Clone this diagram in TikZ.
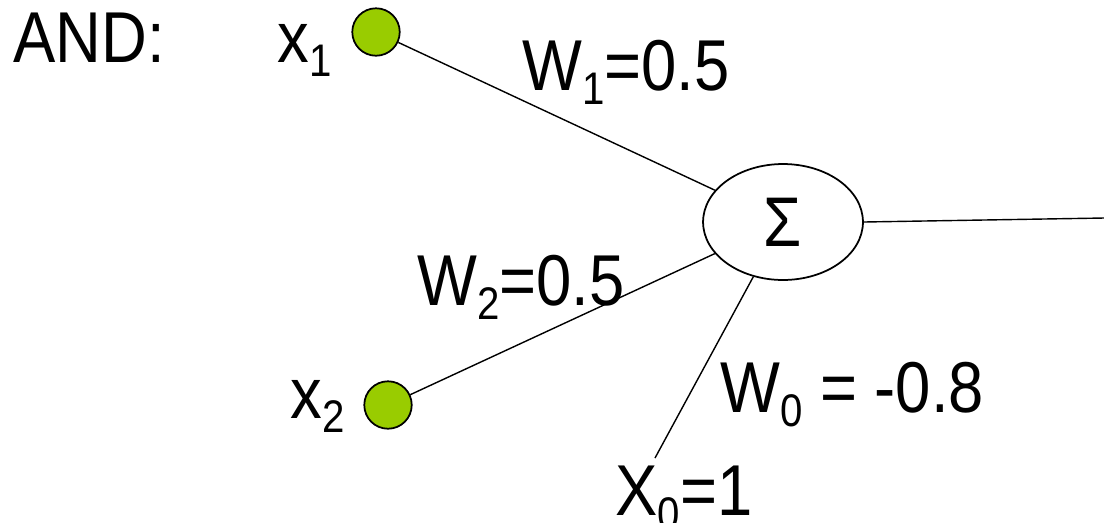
\documentclass[tikz,border=0pt]{standalone}
\usepackage{fontspec}
\setmainfont{Liberation Sans}[FakeStretch=0.88]
\usetikzlibrary{shapes.geometric}

\definecolor{inputgreen}{RGB}{153,204,0}
\newcommand{\lowsub}[1]{\raisebox{-8pt}{\fontsize{26}{26}\selectfont #1}}

\tikzset{
  input/.style={draw, circle, fill=inputgreen, line width=1pt, minimum size=27pt, inner sep=0pt},
  sumnode/.style={draw, ellipse, line width=1pt, minimum width=91pt, minimum height=66pt, inner sep=0pt},
  lbl/.style={anchor=base west, inner sep=0pt, font=\fontsize{41}{45}\selectfont},
  wire/.style={line width=0.8pt}
}

\begin{document}
\begin{tikzpicture}[x=0.02cm, y=-0.02cm]
\useasboundingbox (0,0) rectangle (1104,522);

\node[lbl] (andlbl) at (13,62) {AND:};
\node[input] (x1) at (376,32) {};
\node[input] (x2) at (388,405) {};
\node[lbl] (x1lbl) at (277,62) {x\lowsub{1}};
\node[lbl] (x2lbl) at (290,418) {x\lowsub{2}};
\node[sumnode, font=\fontsize{40}{44}\selectfont] (sum) at (783,222) {Σ};

\node[lbl] (w1) at (522,90) {W\lowsub{1}=0.5};
\node[lbl] (w2) at (417,305) {W\lowsub{2}=0.5};
\node[lbl] (w0) at (720,412) {W\lowsub{0} = -0.8};
\node[lbl] (x0) at (615,515) {X\lowsub{0}=1};

\coordinate (out) at (1104,218);
\coordinate (x0end) at (655,458);

\draw[wire] (x1) -- (sum);
\draw[wire] (x2) -- (sum);
\draw[wire] (sum) -- (x0end);
\draw[wire] (sum.east) -- (out);
\end{tikzpicture}
\end{document}
